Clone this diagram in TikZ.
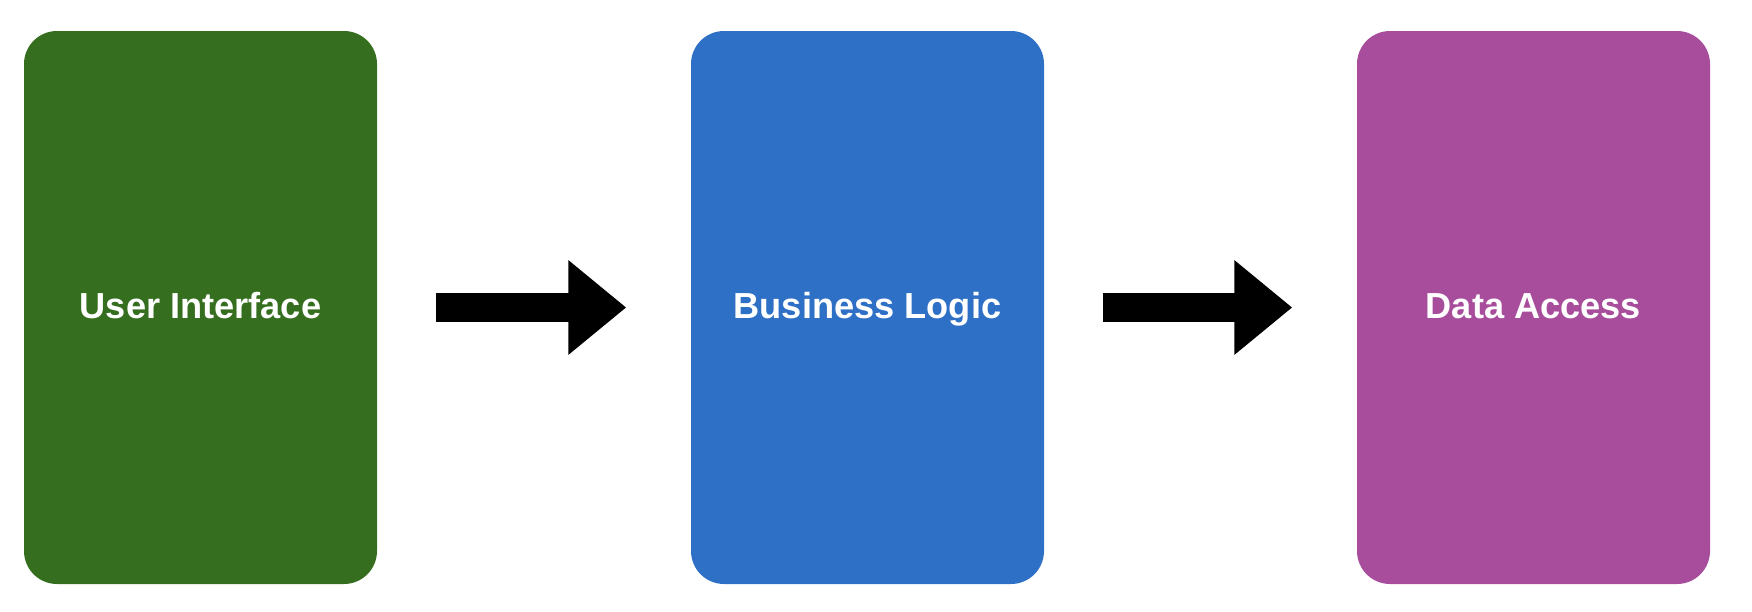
\documentclass[tikz,border=0pt]{standalone}
\usepackage{fontspec}
\setmainfont{Liberation Sans}
\usetikzlibrary{arrows.meta}

\definecolor{uigreen}{RGB}{53,110,30}
\definecolor{blblue}{RGB}{46,112,198}
\definecolor{dapurple}{RGB}{167,77,155}

\begin{document}
\begin{tikzpicture}[layer/.style={rectangle, rounded corners=0.33cm, minimum width=3.53cm, minimum height=5.53cm, text height=7.5pt, text depth=1pt, text=white, font=\fontsize{10.3}{12}\selectfont\bfseries},
    flow/.style={line width=2.9mm, -{Triangle[length=5.8mm, width=9.1mm]}, shorten <=5.8mm, shorten >=6.4mm}]
    \useasboundingbox (0, 0) rectangle (17.52, 6.11);

    \node[layer, fill=uigreen] (l-0) at (2.005, 3.035) {User Interface};
    \node[layer, fill=blblue] (l-1) at (8.675, 3.035) {Business Logic};
    \node[layer, fill=dapurple] (l-2) at (15.335, 3.035) {Data Access};

    \draw[flow] (l-0) -- (l-1);
    \draw[flow] (l-1) -- (l-2);
\end{tikzpicture}
\end{document}
